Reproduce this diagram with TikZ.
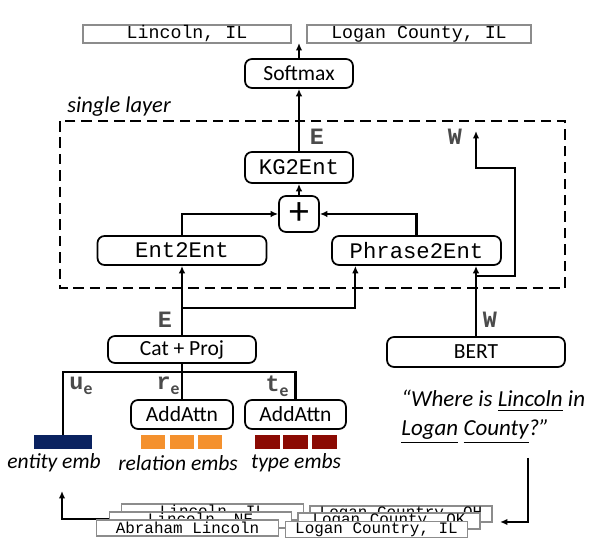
\documentclass[tikz,border=0pt]{standalone}
\usepackage{fontspec}
\setmainfont{Carlito}
\setmonofont{Liberation Mono}
\usepackage{xcolor}
\usepackage{tikz}
\usetikzlibrary{arrows.meta,positioning,calc}

\definecolor{candgray}{RGB}{140,140,140}
\definecolor{symgray}{RGB}{75,75,75}
\definecolor{embnavy}{RGB}{10,34,96}
\definecolor{relorange}{RGB}{244,145,46}
\definecolor{typered}{RGB}{139,10,3}

\begin{document}
\begin{tikzpicture}[x=0.015cm, y=-0.015cm,
  every node/.style={font=\fontsize{9.2}{11}\selectfont},
  blk/.style={draw, rounded corners=3pt, line width=0.75pt, inner sep=0pt,
             minimum height=0.435cm},
  tt/.style={font=\fontsize{9.5}{11}\selectfont\ttfamily},
  outbox/.style={draw=candgray, line width=0.9pt, inner sep=0pt,
             minimum height=0.27cm, font=\fontsize{7.8}{9}\selectfont\ttfamily},
  cand/.style={draw=candgray, line width=0.7pt, fill=white, inner sep=0pt,
             minimum width=2.73cm, minimum height=0.24cm,
             font=\fontsize{6.8}{8}\selectfont\ttfamily},
  sym/.style={font=\fontsize{10}{12}\selectfont\ttfamily\bfseries,
             text=symgray, inner sep=0pt},
  emb/.style={inner sep=0pt, minimum height=0.21cm},
  capt/.style={font=\fontsize{9.2}{11}\selectfont\itshape, inner sep=0pt},
  wire/.style={line width=0.95pt},
  arr/.style={-{Latex[length=3.2pt,width=2.8pt]}, line width=0.95pt},
  layerbox/.style={line width=0.95pt, dash pattern=on 4.5pt off 2.5pt},
]
\useasboundingbox (0,0) rectangle (600,555);

% outputs
\node[outbox, minimum width=3.12cm] (outl) at (187,34)  {Lincoln, IL};
\node[outbox, minimum width=3.36cm] (outr) at (419,34)  {Logan County, IL};
\coordinate (outtip) at (299,43);

% single layer
\draw[layerbox] (60,121) rectangle (565,288);
\node[capt, font=\fontsize{9.6}{11}\selectfont\itshape, anchor=base west]
     (lname) at (67,113) {single layer};

\node[blk, minimum width=1.62cm]           (soft) at (299,73.5)  {Softmax};
\node[blk, tt, minimum width=1.62cm, minimum height=0.465cm]
                                           (kg)   at (299,167.5) {KG2Ent};
\node[blk, minimum width=0.6cm, minimum height=0.54cm,
      font=\fontsize{17}{17}\selectfont]   (plus) at (299,214)   {+};
\node[blk, tt, minimum width=2.535cm]      (e2e)  at (182,250.5) {Ent2Ent};
\node[blk, tt, minimum width=2.535cm]      (p2e)  at (416.5,250.5) {Phrase2Ent};

\node[blk, minimum width=2.22cm, minimum height=0.405cm] (cat)  at (182,349.5) {Cat + Proj};
\node[blk, minimum width=2.67cm, minimum height=0.45cm]  (bert) at (476,352)   {BERT};

\node[sym] (etop) at (317,137) {E};
\node[sym] (wtop) at (455,137) {W};
\node[sym] (ebot) at (165,320) {E};
\node[sym] (wbot) at (490,320) {W};

\draw[arr] (soft.north) -- (outtip);
\draw[arr] (kg.north) -- (soft.south);
\draw[arr] (plus.north) -- (kg.south);
\draw[arr] (e2e.north) |- (plus.west);
\draw[arr] (p2e.north) |- (plus.east);

\coordinate (esplit) at (182,308);
\draw[arr] (cat.north) -- (e2e.south);
\draw[arr] (esplit) -| ($(p2e.south west)!0.142!(p2e.south east)$);

\coordinate (wsplit) at (476,276);
\coordinate (wtip)   at (476,131);
\draw[arr] (bert.north) -- (bert.north |- p2e.south);
\draw[arr] (wsplit) -- ++(39,0) -- ++(0,-108) -| (wtip);

% embeddings
\node[blk, minimum width=1.53cm]  (att1) at (182,414.5)   {AddAttn};
\node[blk, minimum width=1.515cm] (att2) at (295.5,414.5) {AddAttn};

\node[emb, fill=embnavy, minimum width=0.855cm] (ent) at (63,442) {};
\foreach \x [count=\i] in {153,182,210}
  \node[emb, fill=relorange, minimum width=0.36cm] (rel\i) at (\x,442) {};
\foreach \x [count=\i] in {267.5,295.5,324}
  \node[emb, fill=typered, minimum width=0.375cm] (typ\i) at (\x,442) {};

\node[capt] (entcap) at (54,463)  {entity emb};
\node[capt] (relcap) at (178,463) {relation embs};
\node[capt] (typcap) at (296,463) {type embs};

\coordinate (bar) at (cat.south |- 0,372);
\draw[wire] (ent.north) |- (att2.north |- bar) -- (att2.north);
\draw[wire] (cat.south) -- (att1.north);

\node[sym, anchor=west] (ue) at (69,386)
  {u\raisebox{-0.4ex}{\rmfamily\fontsize{7.5}{8}\selectfont\bfseries e}};
\node[sym, anchor=east] (re) at (180,386)
  {r\raisebox{-0.4ex}{\rmfamily\fontsize{7.5}{8}\selectfont\bfseries e}};
\node[sym, anchor=east] (te) at (289,386)
  {t\raisebox{-0.4ex}{\rmfamily\fontsize{7.5}{8}\selectfont\bfseries e}};

% query
\node[capt, align=left, anchor=west, font=\fontsize{9.8}{12.3}\selectfont\itshape]
  (query) at (401,417)
  {“Where is \underline{Lincoln} in\\\underline{Logan} \underline{County}?”};

% candidates
\node[cand] (cl1) at (212.5,512) {Lincoln, IL};
\node[cand] (cr1) at (401,514)   {Logan Country, OH};
\coordinate (embtip)   at (62,491);
\coordinate (stacktip) at (500,522);
\draw[arr] (cl1.west |- 0,519) -| (embtip);
\node[cand] (cl2) at (200.5,520) {Lincoln, NE};
\node[cand] (cr2) at (389,521)   {Logan County, OK};
\node[cand] (cl3) at (187.5,528) {Abraham Lincoln};
\node[cand] (cr3) at (376.5,529.5) {Logan Country, IL};

\draw[arr] ([xshift=0.525cm,yshift=-0.2cm]query.south) |- (stacktip);
\end{tikzpicture}
\end{document}
